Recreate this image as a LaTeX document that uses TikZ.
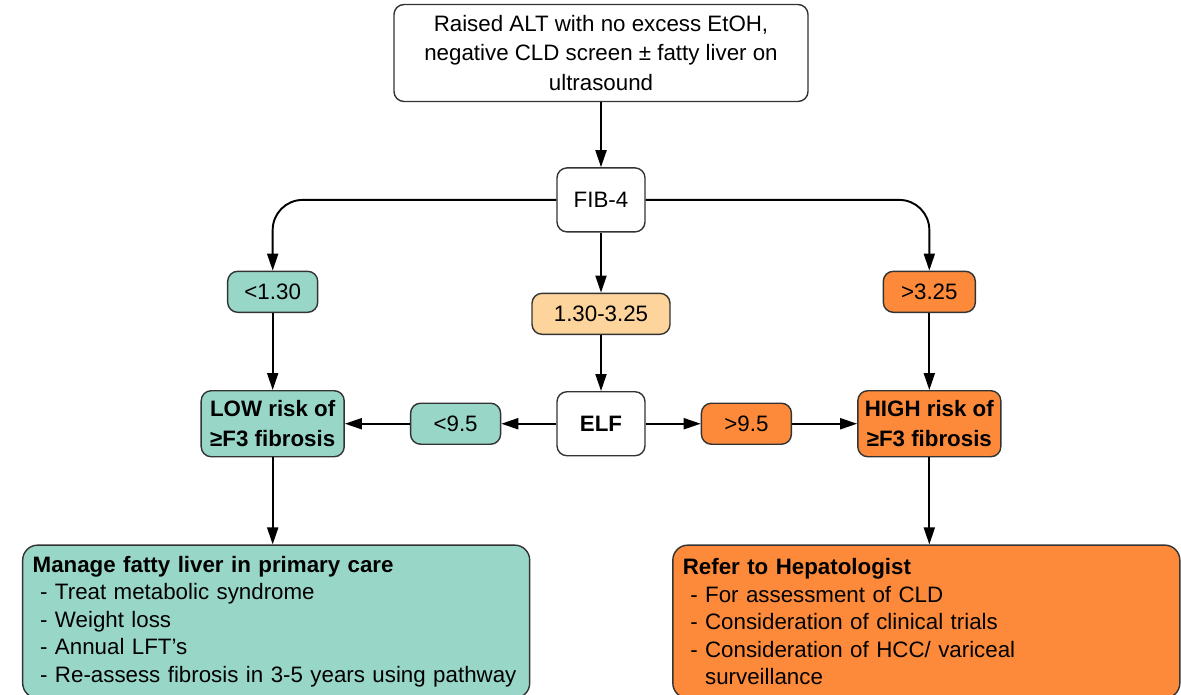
\documentclass[tikz,border=0pt]{standalone}
\usepackage{fontspec}
\setmainfont{Liberation Sans}
\usetikzlibrary{positioning,arrows.meta}
\definecolor{lowgreen}{HTML}{98D7C8}
\definecolor{midpeach}{HTML}{FDD49C}
\definecolor{highorange}{HTML}{FD8A3B}
\begin{document}
\begin{tikzpicture}[font=\fontsize{12.7}{17}\selectfont, >={Triangle[length=0.34cm,width=0.22cm]}]
    \tikzstyle{box} = [rectangle, rounded corners=0.2cm, draw=black!80, line width=0.8pt, text centered, align=center, inner sep=0pt]
    \tikzstyle{start} = [box, fill=white, minimum width=8.28cm, minimum height=1.94cm]
    \tikzstyle{test} = [box, fill=white, minimum width=1.76cm, minimum height=1.28cm]
    \tikzstyle{cutoff} = [box, minimum width=1.8cm, minimum height=0.82cm]
    \tikzstyle{risk} = [box, minimum width=2.86cm, minimum height=1.32cm, font=\fontsize{12.7}{17}\selectfont\bfseries]
    \tikzstyle{action} = [box, rounded corners=0.3cm, minimum width=10.14cm, minimum height=3.06cm, text width=9.74cm, align=left, inner sep=0.2cm, font=\fontsize{12.7}{15.6}\selectfont]
    \tikzstyle{line} = [draw, line width=1.1pt, ->]

    \useasboundingbox (0,0) rectangle (23.62,-13.88);

    % Entry and first test
    \node [start] at (12.02,-1.06) (entry) {Raised ALT with no excess EtOH,\\negative CLD screen ± fatty liver on\\ultrasound};
    \node [test, below=1.3cm of entry] (fib) {FIB-4};

    % FIB-4 cut-offs
    \node [cutoff, fill=midpeach, minimum width=2.76cm, below=1.2cm of fib] (mid) {1.30-3.25};
    \node [test, below=1.12cm of mid] (elf) {\textbf{ELF}};

    % ELF cut-offs and risk
    \node [cutoff, fill=lowgreen, left=1.1cm of elf] (elflow) {<9.5};
    \node [risk, fill=lowgreen, left=1.3cm of elflow] (lowrisk) {LOW risk of\\≥F3 fibrosis};
    \node [cutoff, fill=highorange, right=1.1cm of elf] (elfhigh) {>9.5};
    \node [risk, fill=highorange, right=1.3cm of elfhigh] (highrisk) {HIGH risk of\\≥F3 fibrosis};

    \node [cutoff, fill=lowgreen, above=1.54cm of lowrisk] (fiblow) {<1.30};
    \node [cutoff, fill=highorange, minimum width=1.84cm, above=1.54cm of highrisk] (fibhigh) {>3.25};

    % Management
    \node [action, fill=lowgreen, below=1.74cm of lowrisk, xshift=0.07cm] (manage) {\textbf{Manage fatty liver in primary care}\\
        \ - Treat metabolic syndrome\\
        \ - Weight loss\\
        \ - Annual LFT's\\
        \ - Re-assess fibrosis in 3-5 years using pathway};
    \node [action, fill=highorange, below=1.74cm of highrisk, xshift=-0.06cm] (refer) {\textbf{Refer to Hepatologist}\\
        \ - For assessment of CLD\\
        \ - Consideration of clinical trials\\
        \ - Consideration of HCC/ variceal\\
        \ \phantom{- }surveillance};

    % Connections
    \draw [line] (entry) -- (fib);
    \draw [line, rounded corners=0.6cm] (fib.west) -| (fiblow.north);
    \draw [line, rounded corners=0.6cm] (fib.east) -| (fibhigh.north);
    \draw [line] (fib) -- (mid);
    \draw [line] (mid) -- (elf);
    \draw [line] (fiblow) -- (lowrisk);
    \draw [line] (fibhigh) -- (highrisk);
    \draw [line] (elf) -- (elflow);
    \draw [line] (elflow) -- (lowrisk);
    \draw [line] (elf) -- (elfhigh);
    \draw [line] (elfhigh) -- (highrisk);
    \draw [line] (lowrisk.south) -- (lowrisk.south |- manage.north);
    \draw [line] (highrisk.south) -- (highrisk.south |- refer.north);
\end{tikzpicture}
\end{document}
